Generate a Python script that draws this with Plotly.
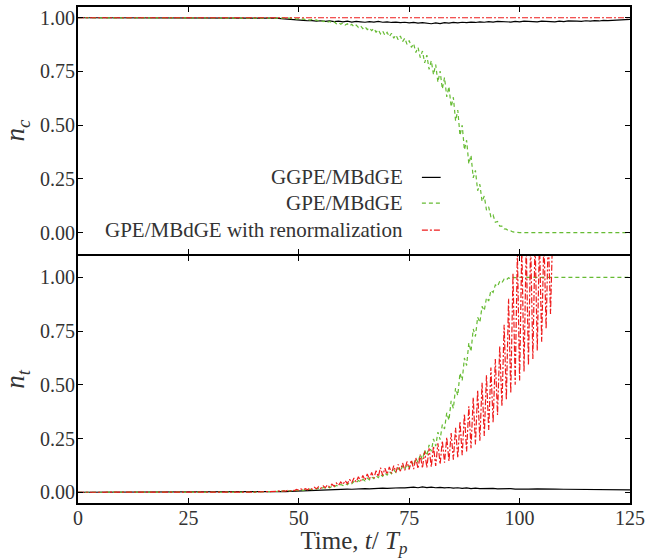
import plotly.graph_objects as go
from plotly.subplots import make_subplots

# ---------------- data ----------------
x_ticks = [0, 25, 50, 75, 100, 125]
y_ticks = [0.0, 0.25, 0.5, 0.75, 1.0]
y_tick_labels = ["0.00", "0.25", "0.50", "0.75", "1.00"]

series_names = ["GGPE/MBdGE", "GPE/MBdGE", "GPE/MBdGE with renormalization"]

# top panel: condensate fraction n_c
t_nc_ggpe = [0, 10, 20, 30, 40, 45, 46, 47, 48, 49, 50, 51, 52, 53, 54, 55, 56, 57, 58, 59, 60,
             61, 62, 63, 64, 65, 66, 67, 68, 69, 70, 71, 72, 73, 74, 75, 76, 77, 78, 79, 80,
             81, 82, 83, 84, 85, 86, 87, 88, 89, 90, 91, 92, 93, 94, 95, 96, 97, 98, 99, 100,
             101, 102, 103, 104, 105, 106, 107, 108, 109, 110, 111, 112, 113, 114, 115, 116,
             117, 118, 119, 120, 121, 122, 123, 124, 125]
nc_ggpe = [1.0, 1.0, 1.0, 0.999, 0.999, 0.998, 0.996, 0.995, 0.993, 0.991, 0.989, 0.988, 0.986,
           0.987, 0.984, 0.986, 0.983, 0.985, 0.982, 0.984, 0.981, 0.984, 0.980, 0.983, 0.981,
           0.979, 0.982, 0.980, 0.983, 0.979, 0.981, 0.978, 0.980, 0.977, 0.979, 0.976, 0.978,
           0.975, 0.977, 0.974, 0.972, 0.976, 0.973, 0.977, 0.975, 0.978, 0.976, 0.979, 0.977,
           0.980, 0.978, 0.981, 0.979, 0.982, 0.980, 0.983, 0.981, 0.982, 0.980, 0.983, 0.981,
           0.984, 0.982, 0.983, 0.981, 0.984, 0.982, 0.983, 0.981, 0.984, 0.982, 0.985, 0.983,
           0.984, 0.983, 0.986, 0.984, 0.987, 0.985, 0.988, 0.987, 0.989, 0.988, 0.990, 0.991,
           0.992]

t_nc_gpe = [0, 10, 20, 30, 40, 42, 44,
            45.0, 45.5, 46.0, 46.5, 47.0, 47.5, 48.0, 48.5, 49.0, 49.5,
            50.0, 50.5, 51.0, 51.5, 52.0, 52.5, 53.0, 53.5, 54.0, 54.5,
            55.0, 55.5, 56.0, 56.5, 57.0, 57.5, 58.0, 58.5, 59.0, 59.5,
            60.0, 60.5, 61.0, 61.5, 62.0, 62.5, 63.0, 63.5, 64.0, 64.5,
            65.0, 65.5, 66.0, 66.5, 67.0, 67.5, 68.0, 68.5, 69.0, 69.5,
            70.0, 70.5, 71.0, 71.5, 72.0, 72.5, 73.0, 73.5, 74.0, 74.5,
            75.0, 75.5, 76.0, 76.5, 77.0, 77.5, 78.0, 78.5, 79.0, 79.5,
            80.0, 80.5, 81.0, 81.5, 82.0, 82.5, 83.0, 83.5, 84.0, 84.5,
            85.0, 85.5, 86.0, 86.5, 87.0, 87.5, 88.0, 88.5, 89.0, 89.5,
            90.0, 90.5, 91.0, 91.5, 92.0, 92.5, 93.0, 93.5, 94.0, 94.5,
            95.0, 95.5, 96.0, 96.5, 97.0, 97.5, 98.0, 98.5, 99.0, 99.5,
            100.0, 110.0, 125.0]
nc_gpe = [1.0, 1.0, 1.0, 1.0, 1.0, 1.0, 0.999,
          1.000, 0.999, 1.000, 0.998, 0.999, 0.997, 0.998, 0.996, 0.997, 0.994,
          0.996, 0.993, 0.995, 0.991, 0.993, 0.989, 0.992, 0.987, 0.990, 0.985,
          0.988, 0.982, 0.986, 0.979, 0.983, 0.976, 0.981, 0.972, 0.978, 0.970,
          0.976, 0.966, 0.972, 0.962, 0.969, 0.958, 0.966, 0.955, 0.962, 0.949,
          0.958, 0.945, 0.953, 0.940, 0.950, 0.933, 0.944, 0.925, 0.938, 0.918,
          0.932, 0.912, 0.928, 0.905, 0.920, 0.898, 0.915, 0.889, 0.905, 0.876,
          0.894, 0.862, 0.880, 0.838, 0.862, 0.815, 0.845, 0.790, 0.826, 0.760,
          0.800, 0.735, 0.782, 0.700, 0.752, 0.668, 0.722, 0.632, 0.680, 0.585,
          0.630, 0.520, 0.570, 0.452, 0.500, 0.385, 0.430, 0.320, 0.360, 0.255,
          0.290, 0.195, 0.225, 0.145, 0.170, 0.105, 0.120, 0.072, 0.082, 0.048,
          0.052, 0.030, 0.030, 0.017, 0.016, 0.009, 0.008, 0.003, 0.002, 0.000,
          0.000, 0.000, 0.000]

t_nc_renorm = [0, 25, 50, 75, 100, 125]
nc_renorm = [1.0, 1.0, 1.0, 1.0, 1.0, 1.0]

# bottom panel: n_t
t_nt_ggpe = [0, 10, 20, 30, 40, 45, 46, 47, 48, 49, 50, 51, 52, 53, 54, 55, 56, 57, 58, 59, 60,
             61, 62, 63, 64, 65, 66, 67, 68, 69, 70, 71, 72, 73, 74, 75, 76, 77, 78, 79, 80,
             81, 82, 83, 84, 85, 86, 87, 88, 89, 90, 91, 92, 93, 94, 95, 96, 97, 98, 99, 100,
             102, 104, 106, 108, 110, 112, 114, 116, 118, 120, 122, 124, 125]
nt_ggpe = [0.0, 0.0, 0.0, 0.0, 0.001, 0.002, 0.003, 0.003, 0.004, 0.005, 0.006, 0.007, 0.008,
           0.008, 0.009, 0.010, 0.011, 0.012, 0.012, 0.013, 0.014, 0.015, 0.014, 0.016, 0.015,
           0.017, 0.016, 0.018, 0.017, 0.019, 0.018, 0.020, 0.019, 0.021, 0.020, 0.022, 0.024,
           0.021, 0.025, 0.022, 0.024, 0.021, 0.023, 0.020, 0.022, 0.019, 0.021, 0.018, 0.020,
           0.017, 0.019, 0.017, 0.018, 0.016, 0.018, 0.016, 0.017, 0.015, 0.017, 0.015, 0.016,
           0.015, 0.016, 0.014, 0.015, 0.014, 0.014, 0.013, 0.013, 0.012, 0.013, 0.012, 0.011,
           0.011]

t_nt_gpe = [0, 10, 20, 30, 40,
            45.0, 45.5, 46.0, 46.5, 47.0, 47.5, 48.0, 48.5, 49.0, 49.5,
            50.0, 50.5, 51.0, 51.5, 52.0, 52.5, 53.0, 53.5, 54.0, 54.5,
            55.0, 55.5, 56.0, 56.5, 57.0, 57.5, 58.0, 58.5, 59.0, 59.5,
            60.0, 60.5, 61.0, 61.5, 62.0, 62.5, 63.0, 63.5, 64.0, 64.5,
            65.0, 65.5, 66.0, 66.5, 67.0, 67.5, 68.0, 68.5, 69.0, 69.5,
            70.0, 70.5, 71.0, 71.5, 72.0, 72.5, 73.0, 73.5, 74.0, 74.5,
            75.0, 75.5, 76.0, 76.5, 77.0, 77.5, 78.0, 78.5, 79.0, 79.5,
            80.0, 80.5, 81.0, 81.5, 82.0, 82.5, 83.0, 83.5, 84.0, 84.5,
            85.0, 85.5, 86.0, 86.5, 87.0, 87.5, 88.0, 88.5, 89.0, 89.5,
            90.0, 90.5, 91.0, 91.5, 92.0, 92.5, 93.0, 93.5, 94.0, 94.5,
            95.0, 95.5, 96.0, 96.5, 97.0, 97.5, 98.0, 98.5, 99.0, 99.5,
            100.0, 110.0, 125.0]
nt_gpe = [0.0, 0.0, 0.0, 0.0, 0.001,
          0.004, 0.005, 0.004, 0.006, 0.005, 0.007, 0.006, 0.008, 0.007, 0.009,
          0.008, 0.011, 0.009, 0.012, 0.011, 0.014, 0.012, 0.016, 0.014, 0.019,
          0.016, 0.022, 0.019, 0.025, 0.021, 0.028, 0.024, 0.032, 0.027, 0.036,
          0.031, 0.040, 0.035, 0.045, 0.040, 0.050, 0.044, 0.055, 0.048, 0.060,
          0.053, 0.066, 0.058, 0.071, 0.063, 0.077, 0.068, 0.083, 0.074, 0.090,
          0.080, 0.097, 0.086, 0.104, 0.092, 0.112, 0.099, 0.120, 0.106, 0.130,
          0.115, 0.142, 0.125, 0.158, 0.138, 0.176, 0.152, 0.196, 0.170, 0.220,
          0.190, 0.248, 0.215, 0.280, 0.245, 0.315, 0.295, 0.370, 0.335, 0.425,
          0.390, 0.485, 0.450, 0.555, 0.520, 0.625, 0.590, 0.695, 0.655, 0.760,
          0.725, 0.815, 0.790, 0.865, 0.845, 0.905, 0.890, 0.940, 0.930, 0.965,
          0.958, 0.982, 0.975, 0.992, 0.988, 0.998, 0.993, 1.000, 0.999, 1.000,
          1.000, 1.000, 1.000]

t_nt_renorm = [0, 10, 20, 30, 40,
               45.0, 45.5, 46.0, 46.5, 47.0, 47.5, 48.0, 48.5, 49.0, 49.5,
               50.0, 50.5, 51.0, 51.5, 52.0, 52.5, 53.0, 53.5, 54.0, 54.5,
               55.0, 55.5, 56.0, 56.5, 57.0, 57.5, 58.0, 58.5, 59.0, 59.5,
               60.0, 60.5, 61.0, 61.5, 62.0, 62.5, 63.0, 63.5, 64.0, 64.5,
               65.0, 65.5, 66.0, 66.5, 67.0, 67.5, 68.0, 68.5, 69.0, 69.5,
               70.0, 70.5, 71.0, 71.5, 72.0, 72.5, 73.0, 73.5, 74.0, 74.5,
               75.0, 75.5, 76.0, 76.5, 77.0, 77.5, 78.0, 78.5, 79.0, 79.5,
               80.0, 80.5, 81.0, 81.5, 82.0, 82.5, 83.0, 83.5, 84.0, 84.5,
               85.0, 85.5, 86.0, 86.5, 87.0, 87.5, 88.0, 88.5, 89.0, 89.5,
               90.0, 90.5, 91.0, 91.5, 92.0, 92.5, 93.0, 93.5, 94.0, 94.5,
               95.0, 95.5, 96.0, 96.5, 97.0, 97.5, 98.0, 98.5, 99.0, 99.5,
               100.0, 100.5, 101.0, 101.5, 102.0, 102.5, 103.0, 103.5, 104.0, 104.5,
               105.0, 105.5, 106.0, 106.5, 107.0, 107.5, 108.0, 110.0]
nt_renorm = [0.0, 0.0, 0.0, 0.0, 0.001,
             0.004, 0.006, 0.003, 0.007, 0.005, 0.009, 0.006, 0.010, 0.008, 0.013,
             0.009, 0.015, 0.011, 0.017, 0.012, 0.020, 0.014, 0.023, 0.016, 0.026,
             0.018, 0.030, 0.021, 0.034, 0.024, 0.038, 0.028, 0.043, 0.032, 0.048,
             0.036, 0.054, 0.040, 0.060, 0.044, 0.066, 0.048, 0.072, 0.052, 0.078,
             0.056, 0.085, 0.061, 0.092, 0.066, 0.100, 0.072, 0.115, 0.078, 0.112,
             0.083, 0.118, 0.088, 0.124, 0.093, 0.130, 0.098, 0.136, 0.102, 0.143,
             0.106, 0.150, 0.108, 0.160, 0.110, 0.175, 0.112, 0.190, 0.115, 0.205,
             0.118, 0.215, 0.122, 0.228, 0.130, 0.240, 0.138, 0.255, 0.145, 0.275,
             0.152, 0.300, 0.160, 0.330, 0.172, 0.365, 0.190, 0.400, 0.205, 0.440,
             0.222, 0.475, 0.240, 0.510, 0.262, 0.545, 0.290, 0.580, 0.325, 0.620,
             0.360, 0.680, 0.400, 0.780, 0.430, 0.900, 0.460, 1.020, 0.500, 1.120,
             0.520, 1.150, 0.560, 1.160, 0.590, 1.170, 0.620, 1.180, 0.660, 1.180,
             0.700, 1.190, 0.760, 1.200, 0.830, 1.220, 1.150, 1.200]

# ---------------- figure ----------------
BLACK = "#000000"
GREEN = "#66bb33"
RED = "#ee1c1c"
FONT = "Liberation Serif"
TXT = "#333333"
GREEN_DASH = "4px,3px"
RED_DASH = "6px,2px,2px,2px"
AXIS_LW = 1.8
HALF_GAP = (AXIS_LW / 2) / 498.0

fig = make_subplots(rows=2, cols=1, shared_xaxes=True, vertical_spacing=0.0)

fig.add_trace(go.Scatter(x=t_nc_ggpe, y=nc_ggpe, mode="lines", name=series_names[0],
                         line=dict(color=BLACK, width=1.2)), row=1, col=1)
fig.add_trace(go.Scatter(x=t_nc_gpe, y=nc_gpe, mode="lines", name=series_names[1],
                         line=dict(color=GREEN, width=1.2, dash=GREEN_DASH)), row=1, col=1)
fig.add_trace(go.Scatter(x=t_nc_renorm, y=nc_renorm, mode="lines", name=series_names[2],
                         line=dict(color=RED, width=1.2, dash=RED_DASH)), row=1, col=1)

fig.add_trace(go.Scatter(x=t_nt_ggpe, y=nt_ggpe, mode="lines", showlegend=False,
                         line=dict(color=BLACK, width=1.2)), row=2, col=1)
fig.add_trace(go.Scatter(x=t_nt_gpe, y=nt_gpe, mode="lines", showlegend=False,
                         line=dict(color=GREEN, width=1.2, dash=GREEN_DASH)), row=2, col=1)
fig.add_trace(go.Scatter(x=t_nt_renorm, y=nt_renorm, mode="lines", showlegend=False,
                         line=dict(color=RED, width=1.2, dash=RED_DASH)), row=2, col=1)

axis_common = dict(showline=True, linecolor="black", linewidth=AXIS_LW, mirror="ticks",
                   ticks="inside", ticklen=5, tickwidth=1.2, tickcolor="black",
                   showgrid=False, zeroline=False,
                   tickfont=dict(family=FONT, size=20, color=TXT))

fig.update_xaxes(**axis_common, range=[0, 125], tickvals=x_ticks, ticklabelstandoff=-4)
fig.update_xaxes(showticklabels=False, row=1, col=1)
fig.update_xaxes(row=2, col=1,
                 title=dict(text="Time, <i>t</i>/ <i>T</i><sub><i>p</i></sub>",
                            font=dict(family=FONT, size=25, color=TXT), standoff=5))

fig.update_yaxes(**axis_common, tickvals=y_ticks, ticktext=y_tick_labels, ticklabelstandoff=-3)
fig.update_yaxes(row=1, col=1, range=[-0.1, 1.05], domain=[0.5 + HALF_GAP, 1.0],
                 title=dict(text="<i>n</i><sub><i>c</i></sub>",
                            font=dict(family=FONT, size=27, color=TXT), standoff=10))
fig.update_yaxes(row=2, col=1, range=[-0.05, 1.1], domain=[0.0, 0.5 - HALF_GAP],
                 title=dict(text="<i>n</i><sub><i>t</i></sub>",
                            font=dict(family=FONT, size=27, color=TXT), standoff=10))

# legend: right-aligned labels with the line sample to their right
legend_rows = [0.257, 0.137, 0.012]
legend_styles = [dict(color=BLACK, width=1.2),
                 dict(color=GREEN, width=1.2, dash=GREEN_DASH),
                 dict(color=RED, width=1.2, dash=RED_DASH)]
for name, yv, st in zip(series_names, legend_rows, legend_styles):
    fig.add_annotation(x=0.592, y=yv, xref="paper", yref="y", text=name, showarrow=False,
                       xanchor="right", yanchor="middle",
                       font=dict(family=FONT, size=21, color=TXT))
    fig.add_shape(type="line", xref="paper", yref="y", x0=0.623, x1=0.657, y0=yv, y1=yv,
                  line=st)

fig.update_layout(width=650, height=558, showlegend=False,
                  margin=dict(l=78, r=18, t=5, b=55),
                  plot_bgcolor="white", paper_bgcolor="white",
                  font=dict(family=FONT, color=TXT))

fig.write_html("out.html", config={"displayModeBar": False},
               post_script="document.body.style.margin='0px';")
